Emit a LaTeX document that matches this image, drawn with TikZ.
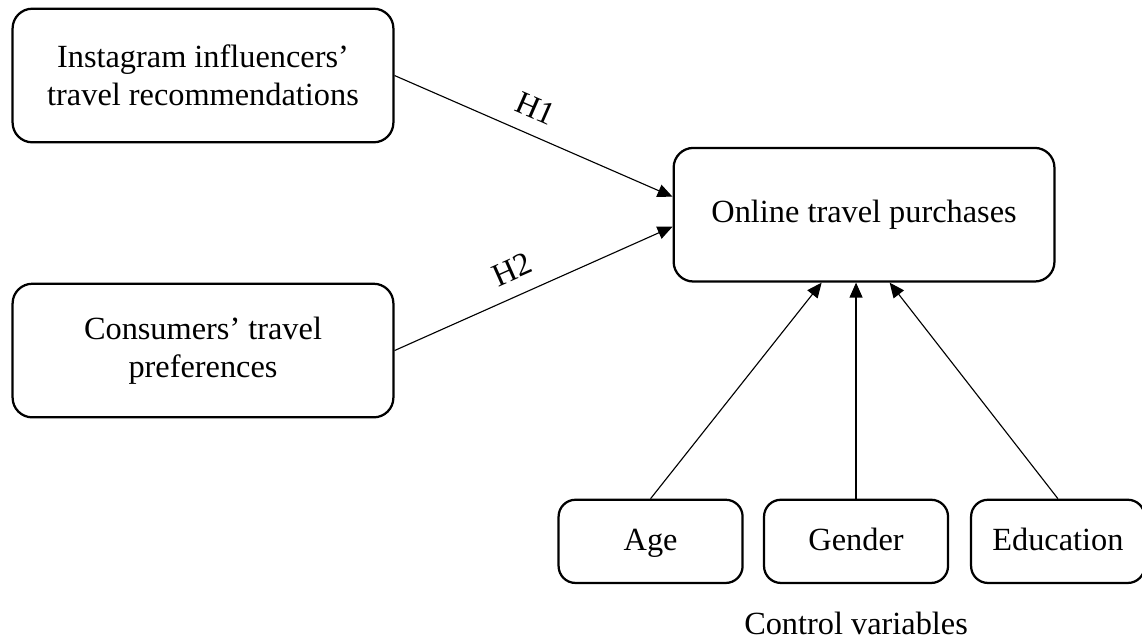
\documentclass[tikz,border=0pt]{standalone}
\usepackage{fontspec}
\setmainfont{Liberation Serif}
\usepackage{tikz}
\usetikzlibrary{arrows.meta, positioning, calc}

\begin{document}
\begin{tikzpicture}[
  bigbox/.style={rectangle, draw, line width=0.8pt, rounded corners=7pt,
                 minimum width=4.76cm, minimum height=1.67cm,
                 align=center, font=\fontsize{11.5}{13.6}\selectfont},
  ctrlbox/.style={rectangle, draw, line width=0.8pt, rounded corners=6pt,
                  minimum width=2.3cm, minimum height=1.04cm,
                  text height=2ex, text depth=0.6ex,
                  align=center, font=\fontsize{11.5}{13.6}\selectfont},
  arrow/.style={-{Triangle[length=5.3pt, width=4.6pt]}, line width=0.4pt},
  hlabel/.style={above=2pt, sloped, font=\fontsize{11.5}{13.6}\selectfont}
]

\useasboundingbox (0,0) rectangle (14.275,-8.0125);

%% --- Predictors (left) ---
\node[bigbox] (instagram) at (2.5375,-0.94375)
    {Instagram influencers’\\travel recommendations};
\node[bigbox, below=1.74cm of instagram] (consumers)
    {Consumers’ travel\\preferences};

%% --- Outcome (right) ---
\node[bigbox, right=3.475cm of instagram, yshift=-1.74cm] (online)
    {Online travel purchases};

%% --- Control variables (bottom) ---
\node[ctrlbox, below=2.7cm of online, xshift=-0.1cm] (gender) {Gender};
\node[ctrlbox, left=0.24cm of gender] (age) {Age};
\node[ctrlbox, minimum width=2.17cm, right=0.26cm of gender] (education)
    {Education};
\node[below=0.22cm of gender, font=\fontsize{11.5}{13.6}\selectfont]
    (controls) {Control variables};

%% --- Hypotheses ---
\draw[arrow] (instagram.east) -- node[hlabel, pos=0.47]{H1}
    ($(online.west)+(0,0.225)$);
\draw[arrow] (consumers.east) -- node[hlabel, pos=0.46]{H2}
    ($(online.west)+(0,-0.15)$);

%% --- Controls -> outcome ---
\draw[arrow] (age.north) -- ($(online.south)+(-0.53,0)$);
\draw[arrow] (gender.north) -- (gender.north |- online.south);
\draw[arrow] (education.north) -- ($(online.south)+(0.32,0)$);

\end{tikzpicture}
\end{document}
